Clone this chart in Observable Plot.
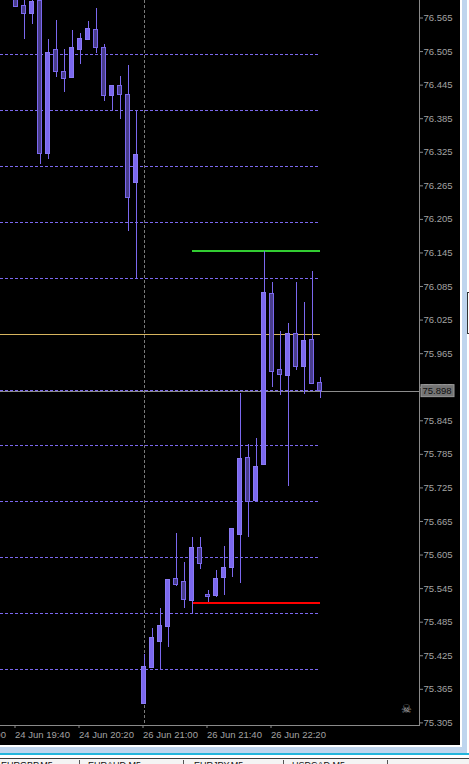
<!DOCTYPE html>
<html>
<head>
<meta charset="utf-8">
<script src="https://cdn.jsdelivr.net/npm/d3@7"></script>
<script src="https://cdn.jsdelivr.net/npm/@observablehq/plot@0.6"></script>
<style>
  html, body { margin: 0; padding: 0; background: #f0f0f0; }
  #wrap { position: relative; width: 469px; height: 764px; overflow: hidden; background: #bfd5ee; }
  #chart { position: absolute; left: 0; top: 0; width: 460px; height: 745px; background: #000; overflow: hidden; }
  #chart svg { display: block; overflow: hidden; }
  .edge { position: absolute; background: #fff; }
  #skull { position: absolute; left: 401px; top: 703px; font: 12px "DejaVu Sans", sans-serif; color: #a9a9a9; line-height: 1; }
  #tabs { position: absolute; left: 0; top: 758px; width: 469px; height: 6px; background: #f4f4f4; border-top: 1px solid #3c3c3c; }
  .tab { position: absolute; top: 1.5px; font: 9px "Liberation Sans", Arial, sans-serif; color: #111; line-height: 1; white-space: nowrap; }
  .sep { position: absolute; top: 1px; width: 1px; height: 6px; background: #555; }
</style>
</head>
<body>
<div id="wrap">
  <div id="chart"></div>
  <div class="edge" style="left:460px;top:0;width:2px;height:747px;"></div>
  <div class="edge" style="left:467px;top:0;width:2px;height:755px;"></div>
  <div style="position:absolute;left:467px;top:292px;width:2px;height:40px;border-left:1px solid #333;border-top:1px solid #333;border-bottom:1px solid #333;background:#fff;"></div>
  <div class="edge" style="left:0;top:745px;width:462px;height:2px;"></div>
  <div style="position:absolute;left:0;top:753px;width:469px;height:2px;background:#22b5dc;"></div>
  <div class="edge" style="left:0;top:755px;width:469px;height:3px;"></div>
  <div id="skull">☠</div>
  <div id="tabs">
    <span class="tab" style="left:1px">EURGBP,M5</span>
    <span class="sep" style="left:79px"></span>
    <span class="tab" style="left:88px">EURAUD,M5</span>
    <span class="sep" style="left:183px"></span>
    <span class="tab" style="left:194px">EURJPY,M5</span>
    <span class="sep" style="left:283px"></span>
    <span class="tab" style="left:292px">USDCAD,M5</span>
    <span class="sep" style="left:387px"></span>
  </div>
</div>
<script>
// M5 bars, indexed relative to the 26 Jun 21:00 session open
const barIndex = [-16, -15, -14, -13, -12, -11, -10, -9, -8, -7, -6, -5, -4, -3, -2, -1,
  0, 1, 2, 3, 4, 5, 6, 7, 8, 9, 10, 11, 12, 13, 14, 15, 16, 17, 18, 19, 20, 21, 22];
const openP = [76.602, 76.586, 76.572, 76.595, 76.322, 76.507, 76.469, 76.457, 76.507, 76.525, 76.544, 76.512, 76.425, 76.444, 76.428, 76.270,
  75.338, 75.403, 75.449, 75.476, 75.563, 75.556, 75.523, 75.617, 75.534, 75.531, 75.564, 75.581, 75.640, 75.778, 75.701, 75.766, 76.071, 75.935, 75.925, 76.000, 75.942, 75.990, 75.912];
const highP = [76.610, 76.603, 76.596, 76.600, 76.527, 76.561, 76.509, 76.543, 76.538, 76.559, 76.582, 76.518, 76.444, 76.460, 76.480, 76.400,
  75.427, 75.474, 75.509, 75.561, 75.644, 75.592, 75.636, 75.636, 75.542, 75.577, 75.620, 75.652, 75.894, 75.803, 75.813, 76.148, 76.092, 76.005, 76.019, 76.092, 76.056, 76.112, 75.922];
const lowP = [76.584, 76.527, 76.554, 76.304, 76.312, 76.459, 76.431, 76.457, 76.482, 76.525, 76.501, 76.415, 76.397, 76.384, 76.184, 76.098,
  75.338, 75.403, 75.400, 75.440, 75.548, 75.509, 75.500, 75.580, 75.521, 75.530, 75.533, 75.565, 75.555, 75.637, 75.701, 75.766, 75.905, 75.891, 75.728, 75.934, 75.892, 75.910, 75.884];
const closeP = [76.584, 76.572, 76.593, 76.322, 76.503, 76.468, 76.456, 76.511, 76.527, 76.546, 76.511, 76.425, 76.444, 76.427, 76.243, 76.321,
  75.405, 75.456, 75.479, 75.561, 75.551, 75.524, 75.618, 75.589, 75.530, 75.563, 75.581, 75.652, 75.776, 75.700, 75.763, 76.074, 75.932, 75.927, 76.000, 75.942, 75.988, 75.910, 75.898];

// price scale labels (right) and time labels (bottom)
const priceTicks = [76.565, 76.505, 76.445, 76.385, 76.325, 76.265, 76.205, 76.145, 76.085, 76.025, 75.965,
  75.905, 75.845, 75.785, 75.725, 75.665, 75.605, 75.545, 75.485, 75.425, 75.365, 75.305];
const gridLevels = [75.3, 75.4, 75.5, 75.6, 75.7, 75.8, 75.9, 76.0, 76.1, 76.2, 76.3, 76.4, 76.5];
const timeTickIndex = [-24, -16, -8, 0, 8, 16];
const timeTickLabels = ["24 Jun 19:00", "24 Jun 19:40", "24 Jun 20:20", "26 Jun 21:00", "26 Jun 21:40", "26 Jun 22:20"];

// drawn objects
const sessionBreak = [0];
const roundLevel = [76.0];
const resistanceLevel = [76.148];
const supportLevel = [75.520];
const levelStartIndex = 6;
const bidPrice = 75.898;

const bars = barIndex.map((k, i) => ({k, open: openP[i], high: highP[i], low: lowP[i], close: closeP[i]}));
const lastIndex = d3.max(barIndex);
const timeLabel = new Map(timeTickIndex.map((k, i) => [k, timeTickLabels[i]]));

const purple = "#7b68ee";
const axisGrey = "#8a8a8a";
const textGrey = "#a3a3a3";

const chart = Plot.plot({
  width: 460,
  height: 745,
  marginLeft: 0,
  marginRight: 41,
  marginTop: 0,
  marginBottom: 20,
  style: {background: "#000", color: textGrey, fontFamily: "'Liberation Sans', Arial, sans-serif", fontSize: "9.5px"},
  x: {type: "linear", domain: [-17.9375, 34.4375], axis: null},
  y: {type: "linear", domain: [75.3003, 76.5963], axis: null},
  marks: [
    // horizontal price grid, up to the latest bar
    Plot.ruleY(gridLevels, {y: d => d, x1: -17.9375, x2: lastIndex + 0.1, stroke: purple, strokeDasharray: "3,2", shapeRendering: "crispEdges"}),
    // period separator
    Plot.ruleX(sessionBreak, {x: d => d, stroke: "#7a7a7a", strokeDasharray: "3,2", shapeRendering: "crispEdges"}),
    // round-number level
    Plot.ruleY(roundLevel, {y: d => d, x1: -17.9375, x2: lastIndex + 0.1, stroke: "#d6b45e", shapeRendering: "crispEdges"}),
    // bid line
    Plot.ruleY([bidPrice], {stroke: "#8c8c8c", shapeRendering: "crispEdges"}),
    // resistance / support
    Plot.ruleY(resistanceLevel, {y: d => d, x1: levelStartIndex, x2: lastIndex + 0.1, stroke: "#32cd32", strokeWidth: 2, shapeRendering: "crispEdges"}),
    Plot.ruleY(supportLevel, {y: d => d, x1: levelStartIndex, x2: lastIndex + 0.1, stroke: "#ff0000", strokeWidth: 2, shapeRendering: "crispEdges"}),
    // wicks
    Plot.ruleX(bars, {x: "k", y1: "low", y2: "high", stroke: purple, clip: true, shapeRendering: "crispEdges"}),
    // bodies
    Plot.rect(bars, {
      x1: d => d.k - 0.25, x2: d => d.k + 0.25,
      y1: "open", y2: "close",
      fill: d => d.close >= d.open ? purple : "#483d8b",
      stroke: d => d.close >= d.open ? "#8a7af4" : purple,
      clip: true, shapeRendering: "crispEdges"
    }),
    // axes
    Plot.frame({anchor: "right", stroke: axisGrey, shapeRendering: "crispEdges"}),
    Plot.frame({anchor: "bottom", stroke: axisGrey, shapeRendering: "crispEdges"}),
    Plot.axisY(priceTicks, {anchor: "right", tickSize: 3, tickPadding: 1, tickFormat: d3.format(".3f"), stroke: axisGrey, fill: textGrey, label: null}),
    Plot.axisX(timeTickIndex, {anchor: "bottom", tickSize: 3, tickPadding: 3, tickFormat: d => timeLabel.get(d), textAnchor: "start", dx: -1, stroke: axisGrey, fill: textGrey, label: null}),
    // bid price label on the price scale
    Plot.text([bidPrice], {y: d => d, frameAnchor: "right", textAnchor: "start", dx: 3, text: d => d3.format(".3f")(d), fill: "#101010", className: "bid-label"})
  ]
});

document.getElementById("chart").appendChild(chart);

// grey box behind the bid label, in the same local frame as its text
d3.select(chart).selectAll("g.bid-label text").each(function () {
  const bb = this.getBBox();
  const parent = this.parentNode;
  const rect = document.createElementNS("http://www.w3.org/2000/svg", "rect");
  rect.setAttribute("x", Math.floor(bb.x) - 1.5);
  rect.setAttribute("y", Math.round(bb.y) - 0.5);
  rect.setAttribute("width", Math.ceil(bb.width) + 3);
  rect.setAttribute("height", Math.ceil(bb.height) + 1);
  rect.setAttribute("fill", "#747474");
  rect.setAttribute("stroke", "#9a9a9a");
  const tf = this.getAttribute("transform");
  if (tf) rect.setAttribute("transform", tf);
  parent.insertBefore(rect, this);
});
</script>
</body>
</html>
